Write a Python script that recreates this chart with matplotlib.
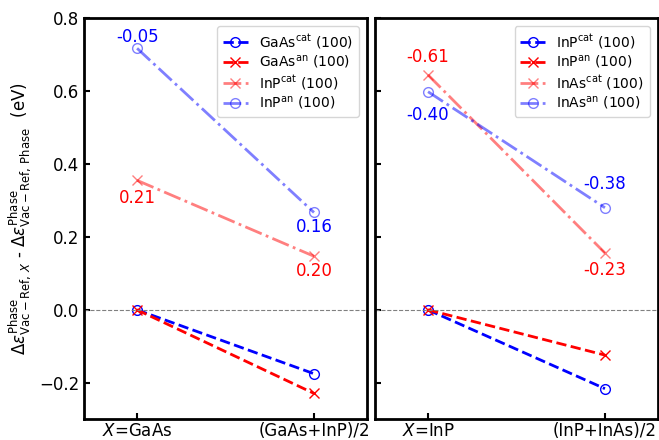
import numpy as np
import matplotlib.pyplot as plt

# left panel: X = GaAs
left_ticks = [r'$X$=GaAs', '(GaAs+InP)/2']
gaas_cat = [0.0, -0.175]
gaas_an = [0.0, -0.229]
inp_cat_l = [0.355, 0.147]
inp_an_l = [0.717, 0.267]

# right panel: X = InP
right_ticks = [r'$X$=InP', '(InP+InAs)/2']
inp_cat_r = [0.0, -0.216]
inp_an_r = [0.0, -0.124]
inas_cat = [0.644, 0.156]
inas_an = [0.598, 0.280]

# (x, y, text, colour) labels
left_notes = [(0, 0.748, '-0.05', 'blue'), (0, 0.307, '0.21', 'red'),
              (1, 0.226, '0.16', 'blue'), (1, 0.107, '0.20', 'red')]
right_notes = [(0, 0.694, '-0.61', 'red'), (0, 0.535, '-0.40', 'blue'),
               (1, 0.344, '-0.38', 'blue'), (1, 0.109, '-0.23', 'red')]

x = np.array([0, 1])

fig, (ax1, ax2) = plt.subplots(1, 2, figsize=(6.59, 4.40), dpi=100, sharey=True)
fig.subplots_adjust(left=0.1275, right=0.9985, top=0.959, bottom=0.047, wspace=0.028)


def draw(ax, names, series, ticks, notes):
    a, b, c, d = series
    ax.plot(x, a, '--o', color='blue', lw=2, ms=7, mfc='none', mew=1, label=names[0])
    ax.plot(x, b, '--x', color='red', lw=2, ms=7, mew=1, label=names[1])
    ax.plot(x, c, '-.x', color='red', alpha=0.5, lw=2, ms=7, mew=1, label=names[2])
    ax.plot(x, d, '-.o', color='blue', alpha=0.5, lw=2, ms=7, mfc='none', mew=1, label=names[3])
    ax.axhline(0, color='gray', ls='--', lw=0.8)
    for xi, yi, t, col in notes:
        ax.text(xi, yi, t, color=col, ha='center', va='center', fontsize=12)
    ax.set_xlim(-0.3, 1.3)
    ax.set_ylim(-0.3, 0.8)
    ax.set_xticks(x)
    ax.set_xticklabels(ticks, fontsize=12)
    ax.tick_params(direction='in', labelsize=12, width=1.5, length=4)
    ax.tick_params(axis='x', pad=2)
    for s in ax.spines.values():
        s.set_linewidth(2)
    ax.legend(loc='upper right', fontsize=10, labelspacing=0.2, handlelength=1.8,
              borderaxespad=0.6)


draw(ax1, ['GaAs$^{\\rm cat}$ (100)', 'GaAs$^{\\rm an}$ (100)',
           'InP$^{\\rm cat}$ (100)', 'InP$^{\\rm an}$ (100)'],
     [gaas_cat, gaas_an, inp_cat_l, inp_an_l], left_ticks, left_notes)
draw(ax2, ['InP$^{\\rm cat}$ (100)', 'InP$^{\\rm an}$ (100)',
           'InAs$^{\\rm cat}$ (100)', 'InAs$^{\\rm an}$ (100)'],
     [inp_cat_r, inp_an_r, inas_cat, inas_an], right_ticks, right_notes)

ax1.set_yticks([-0.2, 0.0, 0.2, 0.4, 0.6, 0.8])
ax2.tick_params(labelleft=False)
ax1.set_ylabel(r'$\Delta\epsilon^{\rm Phase}_{\rm Vac-Ref,\,\it{X}}$ - '
               r'$\Delta\epsilon^{\rm Phase}_{\rm Vac-Ref,\,Phase}$  (eV)', fontsize=12)

plt.savefig('out.png')
